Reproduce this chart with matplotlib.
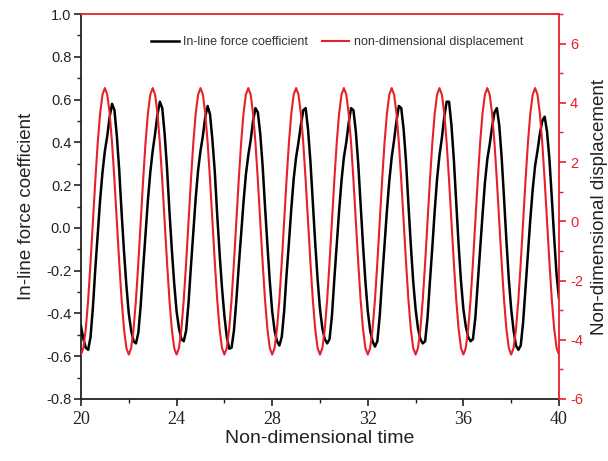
import numpy as np
import matplotlib
matplotlib.use("Agg")
import matplotlib.pyplot as plt
from matplotlib.ticker import MultipleLocator, FormatStrFormatter

plt.rcParams["axes.unicode_minus"] = False
plt.rcParams["font.family"] = ["Liberation Sans", "DejaVu Sans"]

# sample grid: 0.1 non-dimensional time units, 20 samples per cycle
time = np.linspace(20.0, 40.0, 201)

# in-line force coefficient, one row per cycle
force_coef = [
    -0.46, -0.52, -0.56, -0.57, -0.51, -0.37, -0.19, -0.03, 0.13, 0.26,
    0.36, 0.43, 0.52, 0.58, 0.55, 0.43, 0.27, 0.07, -0.11, -0.27,
    -0.40, -0.48, -0.53, -0.54, -0.49, -0.36, -0.19, -0.03, 0.13, 0.26,
    0.36, 0.44, 0.53, 0.59, 0.56, 0.44, 0.28, 0.08, -0.10, -0.26,
    -0.39, -0.47, -0.52, -0.53, -0.48, -0.35, -0.18, -0.02, 0.14, 0.27,
    0.36, 0.43, 0.52, 0.57, 0.53, 0.41, 0.26, 0.06, -0.12, -0.28,
    -0.41, -0.51, -0.565, -0.56, -0.48, -0.34, -0.18, -0.03, 0.12, 0.25,
    0.34, 0.41, 0.50, 0.56, 0.54, 0.44, 0.29, 0.10, -0.08, -0.25,
    -0.39, -0.48, -0.53, -0.55, -0.51, -0.39, -0.22, -0.07, 0.09, 0.23,
    0.33, 0.40, 0.48, 0.55, 0.56, 0.46, 0.31, 0.12, -0.07, -0.24,
    -0.38, -0.47, -0.52, -0.54, -0.52, -0.41, -0.24, -0.08, 0.08, 0.22,
    0.33, 0.40, 0.49, 0.56, 0.55, 0.45, 0.30, 0.11, -0.08, -0.25,
    -0.39, -0.48, -0.53, -0.555, -0.53, -0.41, -0.24, -0.08, 0.08, 0.22,
    0.33, 0.41, 0.50, 0.57, 0.56, 0.46, 0.31, 0.11, -0.08, -0.25,
    -0.38, -0.47, -0.52, -0.54, -0.53, -0.42, -0.25, -0.09, 0.08, 0.23,
    0.34, 0.42, 0.52, 0.59, 0.59, 0.48, 0.32, 0.12, -0.08, -0.25,
    -0.38, -0.46, -0.51, -0.53, -0.52, -0.42, -0.26, -0.10, 0.06, 0.21,
    0.32, 0.39, 0.47, 0.54, 0.56, 0.48, 0.33, 0.14, -0.06, -0.24,
    -0.38, -0.48, -0.55, -0.57, -0.55, -0.44, -0.28, -0.12, 0.04, 0.18,
    0.29, 0.36, 0.44, 0.50, 0.52, 0.45, 0.32, 0.14, -0.05, -0.22,
    -0.33,
]

# non-dimensional displacement, one row per cycle
displacement = [
    -4.50, -4.28, -3.64, -2.65, -1.39, 0.00, 1.39, 2.65, 3.64, 4.28,
    4.50, 4.28, 3.64, 2.65, 1.39, 0.00, -1.39, -2.65, -3.64, -4.28,
    -4.50, -4.28, -3.64, -2.65, -1.39, 0.00, 1.39, 2.65, 3.64, 4.28,
    4.50, 4.28, 3.64, 2.65, 1.39, 0.00, -1.39, -2.65, -3.64, -4.28,
    -4.50, -4.28, -3.64, -2.65, -1.39, 0.00, 1.39, 2.65, 3.64, 4.28,
    4.50, 4.28, 3.64, 2.65, 1.39, 0.00, -1.39, -2.65, -3.64, -4.28,
    -4.50, -4.28, -3.64, -2.65, -1.39, 0.00, 1.39, 2.65, 3.64, 4.28,
    4.50, 4.28, 3.64, 2.65, 1.39, 0.00, -1.39, -2.65, -3.64, -4.28,
    -4.50, -4.28, -3.64, -2.65, -1.39, 0.00, 1.39, 2.65, 3.64, 4.28,
    4.50, 4.28, 3.64, 2.65, 1.39, 0.00, -1.39, -2.65, -3.64, -4.28,
    -4.50, -4.28, -3.64, -2.65, -1.39, 0.00, 1.39, 2.65, 3.64, 4.28,
    4.50, 4.28, 3.64, 2.65, 1.39, 0.00, -1.39, -2.65, -3.64, -4.28,
    -4.50, -4.28, -3.64, -2.65, -1.39, 0.00, 1.39, 2.65, 3.64, 4.28,
    4.50, 4.28, 3.64, 2.65, 1.39, 0.00, -1.39, -2.65, -3.64, -4.28,
    -4.50, -4.28, -3.64, -2.65, -1.39, 0.00, 1.39, 2.65, 3.64, 4.28,
    4.50, 4.28, 3.64, 2.65, 1.39, 0.00, -1.39, -2.65, -3.64, -4.28,
    -4.50, -4.28, -3.64, -2.65, -1.39, 0.00, 1.39, 2.65, 3.64, 4.28,
    4.50, 4.28, 3.64, 2.65, 1.39, 0.00, -1.39, -2.65, -3.64, -4.28,
    -4.50, -4.28, -3.64, -2.65, -1.39, 0.00, 1.39, 2.65, 3.64, 4.28,
    4.50, 4.28, 3.64, 2.65, 1.39, 0.00, -1.39, -2.65, -3.64, -4.28,
    -4.50,
]

RED = "#e8202a"
INK = "#222222"

fig = plt.figure(figsize=(6.08, 4.61), dpi=100)
ax = fig.add_axes([0.1332, 0.1345, 0.7862, 0.8351])
ax2 = ax.twinx()

l1, = ax.plot(time, force_coef, color="black", lw=1.8, zorder=3,
              label="In-line force coefficient")
l2, = ax2.plot(time, displacement, color=RED, lw=1.5, zorder=3,
               label="non-dimensional displacement")

ax.set_xlim(20, 40)
ax.set_ylim(-0.8, 1.0)
ax2.set_ylim(-6, 7)

ax.xaxis.set_major_locator(MultipleLocator(4))
ax.xaxis.set_minor_locator(MultipleLocator(2))
ax.yaxis.set_major_locator(MultipleLocator(0.2))
ax.yaxis.set_minor_locator(MultipleLocator(0.1))
ax.yaxis.set_major_formatter(FormatStrFormatter("%.1f"))
ax2.yaxis.set_major_locator(MultipleLocator(2))
ax2.yaxis.set_minor_locator(MultipleLocator(1))

# spines: black left/bottom, red right/top
for s in ("top", "right"):
    ax.spines[s].set_visible(False)
for s in ("left", "bottom"):
    ax2.spines[s].set_visible(False)
    ax.spines[s].set_linewidth(1.3)
    ax.spines[s].set_color(INK)
for s in ("right", "top"):
    ax2.spines[s].set_color(RED)
    ax2.spines[s].set_linewidth(1.3)

ax.tick_params(axis="y", which="major", direction="out", length=5, width=1.2,
               color=INK, labelsize=10.5, labelcolor=INK, pad=2)
ax.tick_params(axis="y", which="minor", direction="out", length=3, width=1.0,
               color=INK)
ax.tick_params(axis="x", which="major", direction="out", length=5, width=1.2,
               color=INK, labelsize=13, labelcolor=INK, pad=4)
ax.tick_params(axis="x", which="minor", direction="out", length=3, width=1.0,
               color=INK)
for lab in ax.get_xticklabels():
    lab.set_family(["Liberation Serif", "DejaVu Serif"])

ax2.tick_params(axis="y", which="major", direction="out", length=5, width=1.2,
                color=RED, labelsize=10.5, labelcolor=RED, pad=3)
ax2.tick_params(axis="y", which="minor", direction="out", length=3, width=1.0,
                color=RED)
ax2.tick_params(axis="x", which="both", top=True, bottom=False,
                labeltop=False, labelbottom=False, direction="in",
                color="#555555", width=1.0)
ax2.tick_params(axis="x", which="major", length=5)
ax2.tick_params(axis="x", which="minor", length=3)

ax.set_xlabel("Non-dimensional time", fontsize=14, color=INK, labelpad=1)
ax.set_ylabel("In-line force coefficient", fontsize=13.5, color=INK,
              labelpad=8)
ax2.set_ylabel("Non-dimensional displacement", fontsize=13.5, color=INK,
               labelpad=6)

leg = ax2.legend(handles=[l1, l2], loc="center",
                 bbox_to_anchor=(337 / 608, 1 - 42 / 461),
                 bbox_transform=fig.transFigure, ncol=2, frameon=False,
                 fontsize=9, handlelength=2.2, handletextpad=0.35,
                 columnspacing=1.1)
for t in leg.get_texts():
    t.set_color("#333333")

fig.savefig("out.png", dpi=100)
